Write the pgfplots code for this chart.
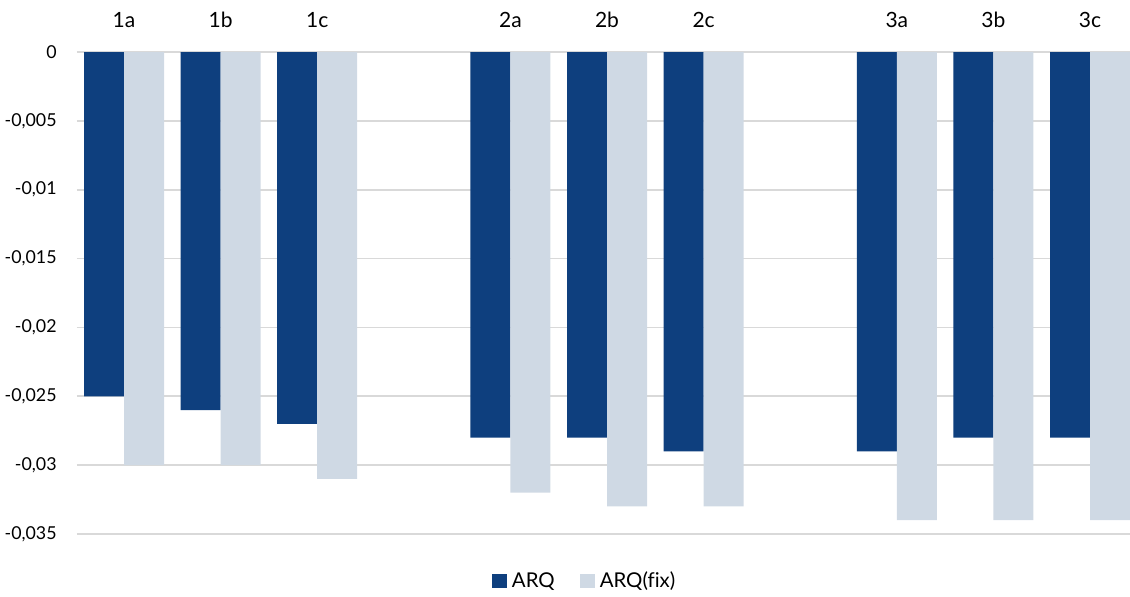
\documentclass[border=0pt]{standalone}
\usepackage{pgfplots}
\pgfplotsset{compat=1.18}
\usepackage{fontspec}
\setmainfont[Ligatures=NoCommon]{Lato}
\definecolor{arq}{HTML}{0E3F7E}
\definecolor{fixc}{HTML}{CFD9E4}
\definecolor{gridc}{HTML}{D9D9D9}
\begin{document}
\fontsize{8.5pt}{10pt}\selectfont
\begin{tikzpicture}
\begin{axis}[
  at={(0,0)}, anchor=south west,
  scale only axis, width=526.5pt, height=241pt,
  xmin=-0.487, xmax=10.414, ymin=-0.035, ymax=0,
  scaled y ticks=false,
  axis line style={draw=none},
  major tick length=0pt,
  ymajorgrids, grid style={gridc, line width=0.9pt},
  ytick={-0.035,-0.03,-0.025,-0.02,-0.015,-0.01,-0.005,0},
  yticklabels={{-0,035},{-0,03},{-0,025},{-0,02},{-0,015},{-0,01},{-0,005},{0}},
  yticklabel style={anchor=east, inner sep=0pt, xshift=-10pt, font=\fontsize{8.9pt}{10pt}\selectfont},
  xtick={0,1,2,4,5,6,8,9,10},
  xticklabels={1a,1b,1c,2a,2b,2c,3a,3b,3c},
  xticklabel pos=upper,
  xticklabel style={anchor=base, inner sep=0pt, yshift=12.3pt, font=\fontsize{10.5pt}{12pt}\selectfont},
  legend style={at={(0.4835,0)}, anchor=center, yshift=-23.5pt, draw=none, fill=none,
    legend columns=2, font=\fontsize{10.2pt}{12pt}\selectfont,
    /tikz/every even column/.append style={column sep=10pt}},
  legend cell align=left,
  legend image code/.code={\fill[#1] (0pt,-3.7pt) rectangle (7.5pt,3.7pt);},
  legend style={nodes={inner xsep=2.5pt}},
]
\addplot[ybar, bar width=0.414, bar shift=-0.207, fill=arq, draw=none] coordinates {
  (0,-0.025) (1,-0.026) (2,-0.027) (4,-0.028) (5,-0.028) (6,-0.029) (8,-0.029) (9,-0.028) (10,-0.028)};
\addlegendentry{ARQ}
\addplot[ybar, bar width=0.414, bar shift=0.207, fill=fixc, draw=none] coordinates {
  (0,-0.030) (1,-0.030) (2,-0.031) (4,-0.032) (5,-0.033) (6,-0.033) (8,-0.034) (9,-0.034) (10,-0.034)};
\addlegendentry{ARQ(fix)}
\end{axis}
\pgfresetboundingbox
\path[use as bounding box] (-38.5pt,-31pt) rectangle (526.5pt,267pt);
\end{tikzpicture}
\end{document}
